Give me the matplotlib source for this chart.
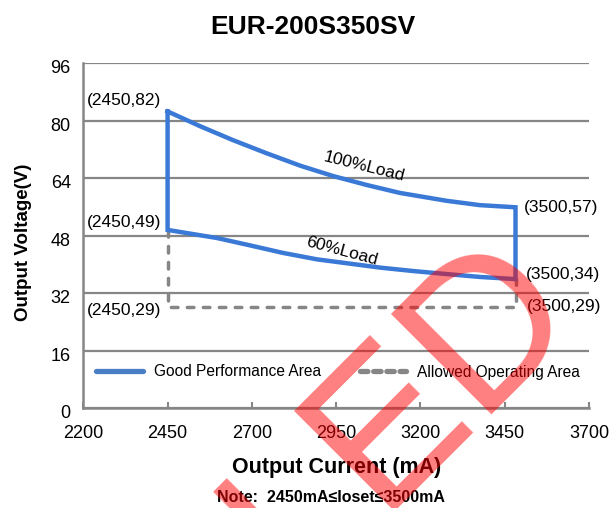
import matplotlib
matplotlib.use("Agg")
import matplotlib.pyplot as plt
from matplotlib.lines import Line2D
import matplotlib.transforms as mtransforms

# ---- data ----
top_x = [2450, 2546, 2644, 2745, 2843, 2941, 3041, 3139, 3278, 3376, 3482]
top_y = [82.6, 78.5, 74.6, 70.9, 67.5, 64.6, 62.1, 59.9, 57.7, 56.5, 55.9]
bot_x = [2450, 2596, 2694, 2792, 2893, 2991, 3080, 3178, 3278, 3376, 3482]
bot_y = [49.6, 47.35, 45.3, 43.2, 41.4, 40.2, 39.1, 38.15, 37.3, 36.5, 35.9]
allowed_x = [2450, 2450, 3482, 3482]
allowed_y = [49.6, 28.2, 28.2, 35.9]
xticks = [2200, 2450, 2700, 2950, 3200, 3450, 3700]
yticks = [0, 16, 32, 48, 64, 80, 96]
point_labels = ["(2450,82)", "(2450,49)", "(2450,29)", "(3500,57)", "(3500,34)", "(3500,29)"]

plt.rcParams['font.family'] = ['Liberation Sans', 'DejaVu Sans']

W, H = 613, 508
fig = plt.figure(figsize=(W / 100, H / 100), dpi=100)
ax = fig.add_axes([83.3 / W, 1 - 408 / H, (589 - 83.3) / W, (408 - 63.3) / H])

gray = '#868686'
blue = '#3A79D6'

# good performance area outline
gx = list(top_x[:1]) + list(bot_x) + [top_x[-1]] + list(top_x[::-1])
gy = list(top_y[:1]) + list(bot_y) + [top_y[-1]] + list(top_y[::-1])
ax.plot(allowed_x, allowed_y, color=gray, lw=2.5, dashes=(1.9, 2.7),
        dash_capstyle='round', zorder=3)
ax.plot(gx, gy, color=blue, lw=3.2, solid_joinstyle='miter', zorder=4)

ax.set_xlim(2200, 3700)
ax.set_ylim(0, 96)
ax.set_xticks(xticks)
ax.set_yticks(yticks)
ax.tick_params(axis='x', direction='in', length=4, width=1.5, color=gray,
               labelsize=13, pad=12)
ax.tick_params(axis='y', length=0, labelsize=13, pad=9)
for lab in ax.get_yticklabels():
    lab.set_transform(lab.get_transform() + mtransforms.ScaledTranslation(0, -3.5 / 100, fig.dpi_scale_trans))
ax.grid(axis='y', color=gray, lw=1.6)
ax.set_axisbelow(True)
for s in ['top', 'right']:
    ax.spines[s].set_visible(False)
for s in ['left', 'bottom']:
    ax.spines[s].set_color(gray)
    ax.spines[s].set_linewidth(1.8)

ax.set_xlabel("Output Current (mA)", fontsize=15.5, fontweight='bold')
ax.xaxis.set_label_coords(0.5, -(467 - 408) / (408 - 63.3), transform=ax.transAxes)
ax.xaxis.label.set_va('center')
ax.set_ylabel("Output Voltage(V)", fontsize=13.5, fontweight='bold')
ax.yaxis.set_label_coords(-(83.3 - 24) / (589 - 83.3), (408 - 242) / (408 - 63.3))
ax.yaxis.label.set_va('center')

# point annotations
ann_pos = [(87, 100), (87, 223), (87, 310), (524, 208), (526, 274), (527, 307)]
for txt, (px, py) in zip(point_labels, ann_pos):
    fig.text(px / W, 1 - py / H, txt, fontsize=12.5, ha='left', va='center')

fig.text(364 / W, 1 - 167 / H, "100%Load", fontsize=12.5, rotation=-14,
         ha='center', va='center', rotation_mode='anchor')
fig.text(342 / W, 1 - 251 / H, "60%Load", fontsize=12.5, rotation=-15,
         ha='center', va='center', rotation_mode='anchor')

# legend
h1 = Line2D([], [], color='#4A7EC4', lw=3.8, solid_capstyle='round')
h2 = Line2D([], [], color=gray, lw=3.8, dashes=(1.4, 1.1), dash_capstyle='round')
ax.legend([h1, h2], ["Good Performance Area", "Allowed Operating Area"],
          loc='center left', bbox_to_anchor=((95 - 83.3 + 1) / (589 - 83.3), (408 - 372) / (408 - 63.3)),
          ncol=2, frameon=False, fontsize=11.2, handlelength=3.0,
          handletextpad=0.7, columnspacing=2.5, borderpad=0, borderaxespad=0)

fig.text(313 / W, 1 - 27 / H, "EUR-200S350SV", fontsize=19, fontweight='bold',
         ha='center', va='center')
fig.text(331 / W, 1 - 497 / H, "Note:  2450mA\u2264Ioset\u22643500mA", fontsize=11.5,
         fontweight='bold', ha='center', va='center')

# watermark
fig.text(583 / W, 1 - 313 / H, "CANCELLED", fontsize=148, color='red', alpha=0.5,
         rotation=45, rotation_mode='anchor', ha='right', va='baseline', zorder=10)

fig.savefig("out.png", dpi=100)
